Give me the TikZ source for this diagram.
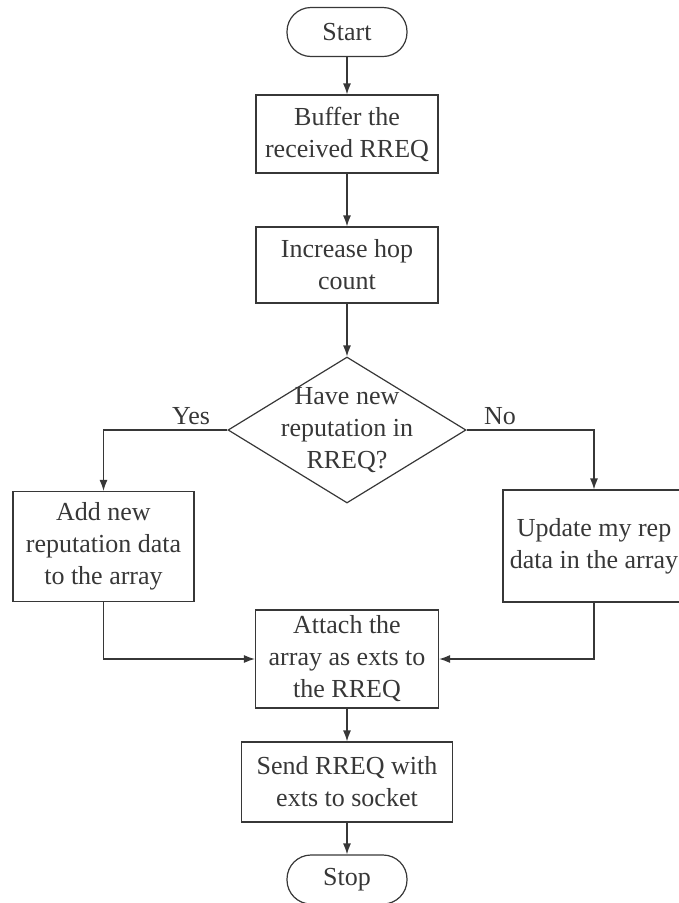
\documentclass[tikz,border=0pt]{standalone}
\usepackage{fontspec}
\setmainfont{Liberation Serif}
\usetikzlibrary{arrows.meta,shapes.geometric}
\definecolor{ink}{RGB}{55,55,55}
\begin{document}
\begin{tikzpicture}[x=1pt,y=-1pt,
  every node/.style={font=\fontsize{26}{32}\selectfont, text=ink},
  box/.style={draw=ink, line width=1.2pt, rectangle, align=center, inner sep=0pt},
  term/.style={draw=ink, line width=1.2pt, rounded corners=24pt,
    minimum width=120pt, minimum height=49pt, inner sep=0pt},
  decision/.style={draw=ink, line width=1.2pt, diamond, inner sep=0pt,
    minimum width=238pt, minimum height=146pt},
  flow/.style={draw=ink, line width=1.2pt, -{Latex[length=11pt,width=8pt]}},
  ]
\useasboundingbox (0,0) rectangle (679,903);

% main column
\node[term] (start) at (347,32) {Start};
\node[box, minimum width=182pt, minimum height=78pt] (buffer) at (347,134)
  {Buffer the\\received RREQ};
\node[box, minimum width=182pt, minimum height=76pt] (inc) at (347,265)
  {Increase hop\\count};
\node[decision] (dec) at (347,430) {};
\node[align=center] (dectext) at (dec.center) {Have new\\reputation in\\RREQ?};

% branches
\node[box, minimum width=181pt, minimum height=110pt] (add) at (103.5,546.5)
  {Add new\\reputation data\\to the array};
\node[box, minimum width=182pt, minimum height=112pt] (upd) at (594,546)
  {Update my rep\\data in the array};

% merge and finish
\node[box, minimum width=183pt, minimum height=98pt] (attach) at (347,659)
  {Attach the\\array as exts to\\the RREQ};
\node[box, minimum width=211pt, minimum height=80pt] (send) at (347,782)
  {Send RREQ with\\exts to socket};
\node[term] (stop) at (347,879.5) {Stop};

% branch labels
\node (yes) at (191,416) {Yes};
\node (no) at (500,416) {No};

% connectors
\draw[flow] (start.south) -- (buffer.north);
\draw[flow] (buffer.south) -- (inc.north);
\draw[flow] (inc.south) -- (dec.north);
\draw[flow] (dec.west) -| (add.north);
\draw[flow] (dec.east) -| (upd.north);
\draw[flow] (add.south) |- (attach.west);
\draw[flow] (upd.south) |- (attach.east);
\draw[flow] (attach.south) -- (send.north);
\draw[flow] (send.south) -- (stop.north);
\end{tikzpicture}
\end{document}
